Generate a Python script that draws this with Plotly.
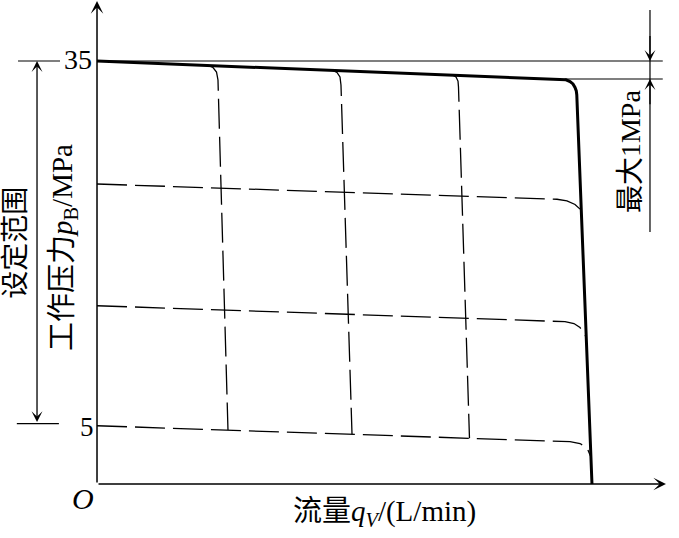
import plotly.graph_objects as go

# 流量 q (相对单位) 与 工作压力 p (MPa)
# 最大压力设定的特性曲线 (粗实线)
q_max = [0, 93.94, 94.75, 95.56, 96.16, 96.57, 96.83, 96.93, 100.0]
p_max = [35.0, 33.51, 33.44, 33.30, 33.10, 32.81, 32.52, 32.19, 0.0]

# 不同压力设定 (虚线, 水平)
q_h25 = [0, 92.93, 94.95, 96.57, 97.78]
p_h25 = [24.82, 23.56, 23.42, 23.13, 22.67]
q_h15 = [0, 94.55, 96.36, 97.58, 98.59]
p_h15 = [14.75, 13.43, 13.28, 12.95, 12.25]
q_h5 = [0, 95.56, 97.58, 98.99, 99.70]
p_h5 = [4.82, 3.50, 3.35, 2.98, 2.32]

# 不同流量设定 (虚线, 竖直)
q_v1 = [22.42, 23.43, 24.14, 24.44, 26.46]
p_v1 = [34.64, 34.46, 34.09, 33.43, 4.47]
q_v2 = [47.47, 48.48, 49.09, 49.29, 51.52]
p_v2 = [34.25, 34.05, 33.68, 33.01, 4.11]
q_v3 = [71.72, 72.53, 72.93, 73.03, 75.25]
p_v3 = [33.87, 33.68, 33.34, 32.85, 3.78]

# 刻度
p_ticks = [35, 5]
tick_labels = ["35", "5"]
p_drop = 33.51  # 最大 1MPa 的下限

FONT = "Times New Roman, Liberation Serif, Noto Sans CJK SC"
x_rng = [-19.6, 117.58]
y_rng = [-4.468, 40.046]

fig = go.Figure()

dash = "30px,8px"
for qs, ps in [(q_h25, p_h25), (q_h15, p_h15), (q_h5, p_h5),
               (q_v1, p_v1), (q_v2, p_v2), (q_v3, p_v3)]:
    fig.add_trace(go.Scatter(x=qs, y=ps, mode="lines",
                             line=dict(color="black", width=1.3, dash=dash)))

# 参考细线
fig.add_trace(go.Scatter(x=[0, 114.3], y=[p_ticks[0]] * 2, mode="lines",
                         line=dict(color="black", width=1.2)))
fig.add_trace(go.Scatter(x=[94.5, 114.3], y=[p_drop] * 2, mode="lines",
                         line=dict(color="black", width=1.2)))
fig.add_trace(go.Scatter(x=[-15.96, -7.47], y=[p_ticks[0]] * 2, mode="lines",
                         line=dict(color="black", width=1.2)))
fig.add_trace(go.Scatter(x=[-16.2, -7.7], y=[p_ticks[1]] * 2, mode="lines",
                         line=dict(color="black", width=1.2)))
fig.add_trace(go.Scatter(x=[111.72, 111.72], y=[39.22, 20.85], mode="lines",
                         line=dict(color="black", width=1.2)))

fig.add_trace(go.Scatter(x=q_max, y=p_max, mode="lines",
                         line=dict(color="black", width=3)))


def arrow(x, y, ax, ay, width=1.3, side="end"):
    return dict(x=x, y=y, ax=ax, ay=ay, xref="x", yref="y", axref="x", ayref="y",
                text="", showarrow=True, arrowhead=3, startarrowhead=3,
                arrowsize=1.4, startarrowsize=1.4, arrowwidth=width,
                arrowcolor="black", arrowside=side)


annotations = [
    # 坐标轴
    arrow(0, 39.96, 0, 0, width=1.5),
    arrow(114.95, 0, 0, 0, width=1.5),
    # 设定范围
    arrow(-12.12, p_ticks[0], -12.12, p_ticks[1], side="end+start"),
    # 最大 1MPa
    arrow(111.72, p_ticks[0], 111.72, 37.2),
    arrow(111.72, p_drop, 111.72, 31.3),
]


def label(x, y, text, size=26, angle=0):
    return dict(x=x, y=y, xref="x", yref="y", text=text, showarrow=False,
                textangle=angle, xanchor="center", yanchor="middle",
                font=dict(family=FONT, size=size, color="black"))


annotations += [
    label(-3.84, 35.15, tick_labels[0], size=28),
    label(-2.12, 4.7, tick_labels[1], size=27),
    label(-2.83, -1.24, "<i>O</i>", size=30),
    label(57.98, -2.40, "流量<i>q</i><sub><i>V</i></sub>/(L/min)", size=29),
    label(-6.67, 19.53, "工作压力<i>p</i><sub>B</sub>/MPa", size=29, angle=-90),
    label(-16.6, 19.94, "设定范围", size=28, angle=-90),
    label(107.9, 27.47, "最大1MPa", size=28, angle=-90),
]

fig.update_layout(
    width=679, height=538,
    margin=dict(l=0, r=0, t=0, b=0),
    paper_bgcolor="white", plot_bgcolor="white",
    showlegend=False,
    xaxis=dict(range=x_rng, visible=False, fixedrange=True),
    yaxis=dict(range=y_rng, visible=False, fixedrange=True),
    annotations=annotations,
)

# 去掉页面 body 的默认边距, 使图幅贴齐窗口
fig.write_html("out.html", config={"displayModeBar": False},
               post_script="document.body.style.margin = '0px';")
